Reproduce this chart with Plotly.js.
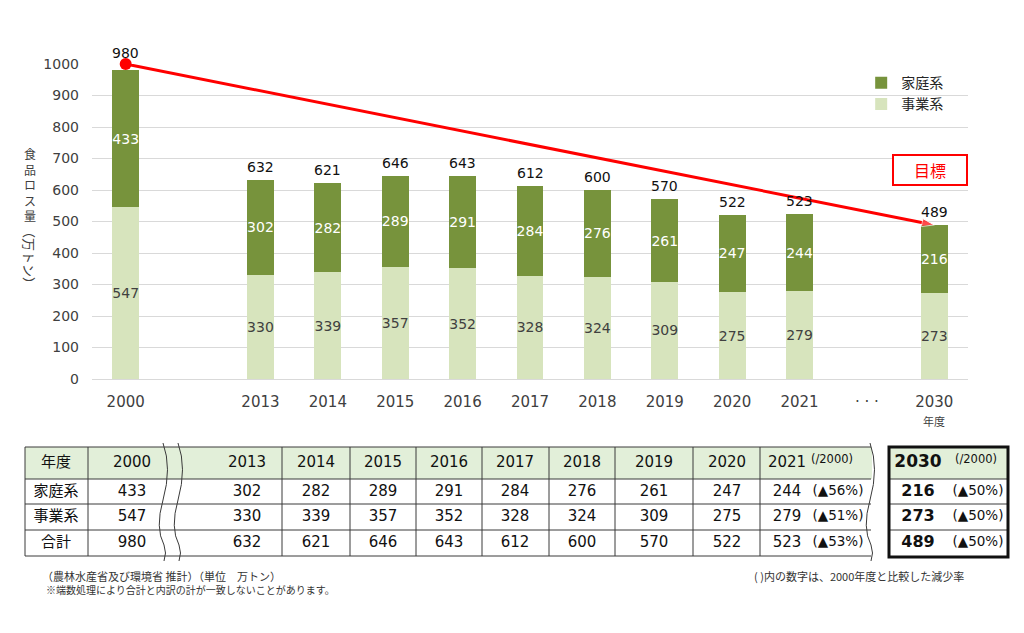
<!DOCTYPE html>
<html><head><meta charset="utf-8">
<script src="https://cdn.plot.ly/plotly-3.0.1.min.js"></script>
<style>html,body{margin:0;padding:0;background:#fff}#chart{width:1024px;height:633px}</style>
</head><body><div id="chart"></div>
<script>
// ---------- data ----------
const years = ['2000','2013','2014','2015','2016','2017','2018','2019','2020','2021','2030'];
const household = [433,302,282,289,291,284,276,261,247,244,216];
const business  = [547,330,339,357,352,328,324,309,275,279,273];
const total     = [980,632,621,646,643,612,600,570,522,523,489];
const axisSlots    = ['2000','gap','2013','2014','2015','2016','2017','2018','2019','2020','2021','dots','2030'];
const axisTickText = ['2000','','2013','2014','2015','2016','2017','2018','2019','2020','2021','· · ·','2030'];
const targetYears  = ['2000','2030'];
const targetValues = [1000, 489];
const rowLabels = ['家庭系','事業系','合計'];
const reduction2021 = ['(▲56%)','(▲51%)','(▲53%)'];
const reduction2030 = ['(▲50%)','(▲50%)','(▲50%)'];
const yTitleUpright = '食品ロス量';
const yTitleRotated = '（万トン）';

// ---------- layout constants (pixel positions of the table) ----------
const W = 1024, H = 633;
const colX = [132,247,316,383,449,515,582,654,727,787,918];
const labelColX = 56;
const rowY = [463,492,517,543];
const hLines = [447,479,504,530,556];
const vLines = [25,88,282,350,416,482,549,615,693,760];
const waves = [163,178,870];
const box2030 = [889,1008];

const NUMF = 'DejaVu Sans, Noto Sans CJK JP, sans-serif';
const CJKF = 'Noto Sans CJK JP, sans-serif';
const DARK = '#77933c', LIGHT = '#d7e4bd';
const slot = v => axisSlots.indexOf(v);

const traces = [];
traces.push({
  type:'bar', name:'事業系', x:years, y:business, text:business.map(String),
  textposition:'inside', insidetextanchor:'middle', textangle:0, constraintext:'none',
  textfont:{family:NUMF,size:14,color:'#404040'},
  marker:{color:LIGHT}, width:0.4, hoverinfo:'skip'
});
traces.push({
  type:'bar', name:'家庭系', x:years, y:household, text:household.map(String),
  textposition:'inside', insidetextanchor:'middle', textangle:0, constraintext:'none',
  textfont:{family:NUMF,size:14,color:'#ffffff'},
  marker:{color:DARK}, width:0.4, hoverinfo:'skip'
});
traces.push({
  type:'scatter', mode:'lines+markers', x:targetYears, y:targetValues, showlegend:false,
  line:{color:'#ff0000',width:3}, cliponaxis:false, hoverinfo:'skip',
  marker:{color:'#ff0000',symbol:['circle','arrow'],size:[0,13],angleref:'previous'}
});
traces.push({
  type:'scatter', mode:'markers', x:targetYears.slice(0,1), y:targetValues.slice(0,1), showlegend:false,
  cliponaxis:false, hoverinfo:'skip', marker:{color:'#ff0000',symbol:'circle',size:12}
});

// table text (on pixel-mapped overlay axes)
const tx=[], ty=[], tt=[];
tx.push(labelColX); ty.push(rowY[0]); tt.push('年度');
rowLabels.forEach((r,k)=>{tx.push(labelColX); ty.push(rowY[k+1]); tt.push(r);});
for(let i=0;i<years.length-1;i++){
  const vals=[years[i],household[i],business[i],total[i]];
  vals.forEach((v,k)=>{tx.push(colX[i]); ty.push(rowY[k]); tt.push(String(v));});
}
traces.push({type:'scatter',mode:'text',xaxis:'x2',yaxis:'y2',x:tx,y:ty,text:tt,showlegend:false,
  cliponaxis:false,hoverinfo:'skip',textfont:{family:NUMF,size:15,color:'#111'}});
const last=years.length-1;
const bvals=[years[last],household[last],business[last],total[last]];
traces.push({type:'scatter',mode:'text',xaxis:'x2',yaxis:'y2',
  x:bvals.map(()=>colX[last]),y:rowY,text:bvals.map(String),showlegend:false,cliponaxis:false,hoverinfo:'skip',
  textfont:{family:NUMF,size:[17,16,16,16],color:'#111',weight:'bold'}});
const nx=[832,976], ny=[460,460], nt=['(/2000)','(/2000)'];
traces.push({type:'scatter',mode:'text',xaxis:'x2',yaxis:'y2',x:nx,y:ny,text:nt,showlegend:false,cliponaxis:false,hoverinfo:'skip',
  textfont:{family:NUMF,size:11.5,color:'#111'}});
const rx=[],ry=[],rt=[];
reduction2021.forEach((r,k)=>{rx.push(838);ry.push(rowY[k+1]);rt.push(r);});
reduction2030.forEach((r,k)=>{rx.push(978);ry.push(rowY[k+1]);rt.push(r);});
traces.push({type:'scatter',mode:'text',xaxis:'x2',yaxis:'y2',x:rx,y:ry,text:rt,showlegend:false,cliponaxis:false,hoverinfo:'skip',
  textfont:{family:NUMF,size:13.5,color:'#111'}});

// shapes
const shapes=[];
const L={color:'#3a3a3a',width:1};
shapes.push({type:'rect',xref:'x2',yref:'y2',x0:25,x1:872,y0:447,y1:479,fillcolor:'#e2efd9',line:{width:0},layer:'below'});
shapes.push({type:'rect',xref:'x2',yref:'y2',x0:box2030[0],x1:box2030[1],y0:447,y1:479,fillcolor:'#e2efd9',line:{width:0},layer:'below'});
hLines.forEach(y=>shapes.push({type:'line',xref:'x2',yref:'y2',x0:25,x1:871,y0:y,y1:y,line:L}));
hLines.slice(1,4).forEach(y=>shapes.push({type:'line',xref:'x2',yref:'y2',x0:box2030[0],x1:box2030[1],y0:y,y1:y,line:L}));
vLines.forEach(x=>shapes.push({type:'line',xref:'x2',yref:'y2',x0:x,x1:x,y0:447,y1:556,line:L}));
waves.forEach(x=>shapes.push({type:'path',xref:'x2',yref:'y2',line:L,
  path:`M${x},443 Q${x+9},468 ${x},500 Q${x-8},528 ${x+1},545 Q${x+4},553 ${x+1},561`}));
shapes.push({type:'rect',xref:'x2',yref:'y2',x0:box2030[0],x1:box2030[1],y0:447,y1:557,line:{color:'#111',width:3}});

// annotations
const ann=[];
years.forEach((yr,i)=>ann.push({x:slot(yr),y:total[i],xref:'x',yref:'y',text:String(total[i]),showarrow:false,
  yanchor:'bottom',yshift: yr==='2000'?7:3,font:{family:NUMF,size:14,color:'#111'}}));
ann.push({x:slot('2030'),xref:'x',y:421,yref:'y2',text:'年度',showarrow:false,font:{family:CJKF,size:11,color:'#404040'}});
ann.push({x:30,y:184,xref:'x2',yref:'y2',text:Array.from(yTitleUpright).join('<br>'),showarrow:false,
  font:{family:CJKF,size:12,color:'#404040'}});
ann.push({x:30,y:257,xref:'x2',yref:'y2',text:yTitleRotated,textangle:90,showarrow:false,font:{family:CJKF,size:13,color:'#404040'}});
ann.push({x:930,y:170,xref:'x2',yref:'y2',text:'目標',showarrow:false,font:{family:CJKF,size:16,color:'#ff0000'},
  bordercolor:'#ff0000',borderwidth:2,borderpad:3,width:66,height:22,bgcolor:'#ffffff'});
ann.push({x:40,y:576,xref:'x2',yref:'y2',xanchor:'left',text:'（農林水産省及び環境省 推計）（単位　万トン）',showarrow:false,font:{family:CJKF,size:11,color:'#333'}});
ann.push({x:44,y:589,xref:'x2',yref:'y2',xanchor:'left',text:'※端数処理により合計と内訳の計が一致しないことがあります。',showarrow:false,font:{family:CJKF,size:10,color:'#333'}});
ann.push({x:966,y:576,xref:'x2',yref:'y2',xanchor:'right',text:'( )内の数字は、2000年度と比較した減少率',showarrow:false,font:{family:CJKF,size:11,color:'#333'}});

const layout={
  width:W,height:H,margin:{l:0,r:0,t:0,b:0},paper_bgcolor:'#ffffff',plot_bgcolor:'rgba(0,0,0,0)',
  barmode:'stack',bargap:0.6,showlegend:true,
  legend:{x:0.841,y:0.894,xanchor:'left',yanchor:'top',traceorder:'reversed',bgcolor:'rgba(0,0,0,0)',
    font:{family:CJKF,size:14,color:'#262626'},itemwidth:30},
  xaxis:{domain:[92/W,968/W],type:'category',categoryorder:'array',categoryarray:axisSlots,
    tickvals:axisSlots,ticktext:axisTickText,range:[-0.5,12.5],showgrid:false,showline:false,zeroline:false,ticks:'',
    tickfont:{family:NUMF,size:15,color:'#404040'},ticklabelstandoff:12,fixedrange:true,anchor:'y'},
  yaxis:{domain:[(H-379)/H,(H-64)/H],range:[0,1000],dtick:100,gridcolor:'#d9d9d9',gridwidth:1,
    zeroline:true,zerolinecolor:'#d9d9d9',zerolinewidth:1,showline:false,ticks:'',
    tickfont:{family:NUMF,size:14,color:'#404040'},ticklabelstandoff:12,fixedrange:true,anchor:'x'},
  xaxis2:{domain:[0,1],range:[0,W],visible:false,anchor:'y2',fixedrange:true},
  yaxis2:{domain:[0,1],range:[H,0],visible:false,anchor:'x2',fixedrange:true},
  shapes:shapes,annotations:ann
};
Plotly.newPlot('chart',traces,layout,{displayModeBar:false,staticPlot:true});
</script></body></html>
